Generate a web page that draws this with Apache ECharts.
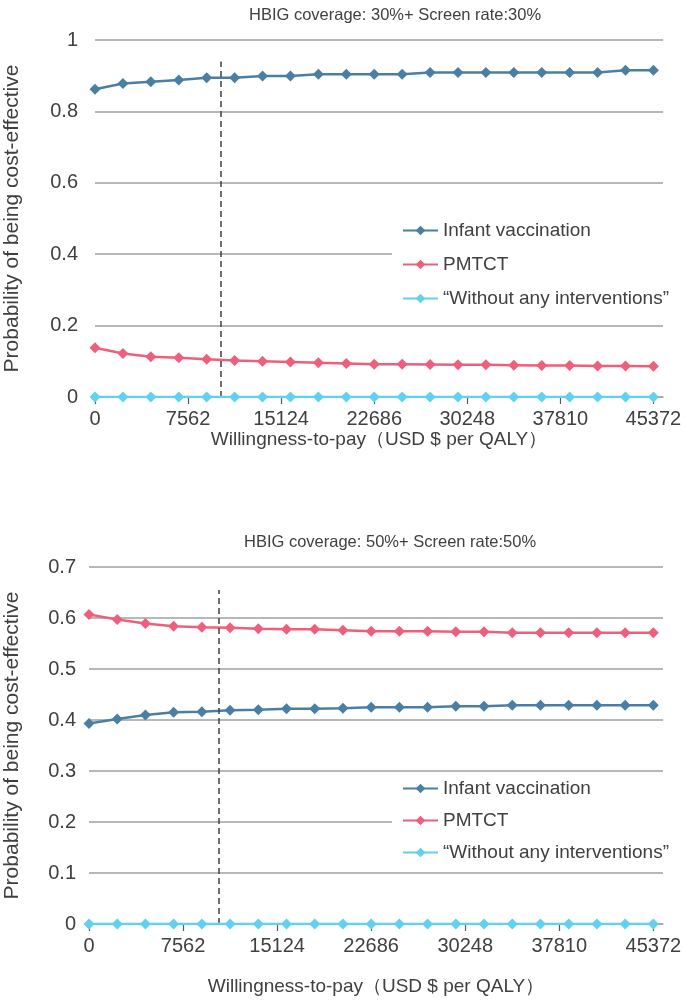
<!DOCTYPE html>
<html><head><meta charset="utf-8">
<script src="https://cdn.jsdelivr.net/npm/echarts@6/dist/echarts.min.js"></script>
<style>html,body{margin:0;padding:0;background:#fff}#c{width:685px;height:1006px}</style>
</head><body><div id="c"></div>
<script>
const wtp = [0, 2269, 4537, 6806, 9074, 11343, 13612, 15880, 18149, 20417, 22686, 24955, 27223, 29492, 31760, 34029, 36298, 38566, 40835, 43103, 45372];
const xTicks = [0, 7562, 15124, 22686, 30248, 37810, 45372];
const names = ['Infant vaccination', 'PMTCT', '\u201cWithout any interventions\u201d'];
const titles = ['HBIG coverage: 30%+ Screen rate:30%', 'HBIG coverage: 50%+ Screen rate:50%'];
// Top panel (30% / 30%)
const infant30 = [0.862, 0.878, 0.883, 0.888, 0.894, 0.894, 0.899, 0.899, 0.904, 0.904, 0.904, 0.904, 0.909, 0.909, 0.909, 0.909, 0.909, 0.909, 0.909, 0.915, 0.915];
const pmtct30  = [0.138, 0.122, 0.113, 0.110, 0.106, 0.102, 0.100, 0.098, 0.096, 0.094, 0.092, 0.092, 0.091, 0.090, 0.090, 0.089, 0.088, 0.088, 0.087, 0.087, 0.086];
const none30   = [0, 0, 0, 0, 0, 0, 0, 0, 0, 0, 0, 0, 0, 0, 0, 0, 0, 0, 0, 0, 0];
// Bottom panel (50% / 50%)
const infant50 = [0.393, 0.402, 0.410, 0.415, 0.416, 0.419, 0.420, 0.422, 0.422, 0.423, 0.425, 0.425, 0.425, 0.427, 0.427, 0.429, 0.429, 0.429, 0.429, 0.429, 0.429];
const pmtct50  = [0.607, 0.597, 0.589, 0.584, 0.582, 0.581, 0.579, 0.578, 0.578, 0.576, 0.574, 0.574, 0.574, 0.573, 0.573, 0.571, 0.571, 0.571, 0.571, 0.571, 0.571];
const none50   = [0, 0, 0, 0, 0, 0, 0, 0, 0, 0, 0, 0, 0, 0, 0, 0, 0, 0, 0, 0, 0];
const threshold = [10200, 10400];
const dashTop = [0.94, 0.655];

const colors = ['#4a7fa4', '#ee5f7c', '#62d0ef'];
const txt = '#404040';
const font = 'Liberation Sans, Arial, sans-serif';

function pairs(v) { return wtp.map((x, i) => [x, v[i]]); }

function mkSeries(idx, data, k, withMark) {
  const s = {
    name: names[k], type: 'line', xAxisIndex: idx, yAxisIndex: idx,
    data: pairs(data), symbol: 'diamond', symbolSize: 11,
    lineStyle: { color: colors[k], width: 2.5 },
    itemStyle: { color: colors[k] },
    z: 3 + k
  };
  if (withMark) {
    s.markLine = {
      silent: true, symbol: 'none', label: { show: false },
      lineStyle: { color: '#404040', type: [6, 4], width: 1.5 },
      data: [[{ coord: [threshold[idx], 0] }, { coord: [threshold[idx], dashTop[idx]] }]]
    };
  }
  return s;
}

function xAx(idx, gap) {
  return {
    type: 'value', gridIndex: idx, min: 0, max: 46150,
    name: 'Willingness-to-pay\uff08USD $ per QALY\uff09', nameLocation: 'middle', nameGap: gap,
    nameTextStyle: { color: txt, fontSize: 19, fontFamily: font },
    axisLine: { show: true, lineStyle: { color: '#a6a6a6', width: 1.5 } },
    axisTick: { show: true, customValues: xTicks, length: 7, lineStyle: { color: '#595959', width: 1.2 } },
    axisLabel: { customValues: xTicks, color: txt, fontSize: 20, fontFamily: font, margin: 12,
      formatter: v => String(v) },
    splitLine: { show: false }
  };
}
function yAx(idx, max, interval, gap, margin) {
  return {
    type: 'value', gridIndex: idx, min: 0, max: max, interval: interval,
    name: 'Probability of being cost-effective', nameLocation: 'middle', nameGap: gap,
    nameTextStyle: { color: txt, fontSize: 21, fontFamily: font },
    axisLine: { show: false }, axisTick: { show: false },
    axisLabel: { color: txt, fontSize: 20, fontFamily: font, margin: margin },
    splitLine: { show: true, lineStyle: { color: '#a0a0a0', width: 1.5 } }
  };
}
function leg(top, gap) {
  return {
    orient: 'vertical', left: 392, top: top, data: names,
    backgroundColor: '#fff', padding: [5, 6, 5, 10],
    itemWidth: 35, itemHeight: 12, itemGap: gap,
    textStyle: { color: txt, fontSize: 19, fontFamily: font }
  };
}

const chart = echarts.init(document.getElementById('c'), null, { renderer: 'canvas' });
chart.setOption({
  animation: false,
  backgroundColor: '#fff',
  title: [
    { text: titles[0], left: 244, top: 2, textStyle: { color: txt, fontSize: 16.5, fontWeight: 'normal', fontFamily: font } },
    { text: titles[1], left: 239, top: 529, textStyle: { color: txt, fontSize: 16.5, fontWeight: 'normal', fontFamily: font } }
  ],
  legend: [leg(216, 15), leg(774, 13)],
  grid: [
    { left: 95, right: 22, top: 40, bottom: 609, outerBoundsMode: 'none' },
    { left: 89, right: 22, top: 567, bottom: 82, outerBoundsMode: 'none' }
  ],
  xAxis: [xAx(0, 29), xAx(1, 53)],
  yAxis: [yAx(0, 1, 0.2, 72, 17), yAx(1, 0.7, 0.1, 66, 13)],
  series: [
    mkSeries(0, infant30, 0, true), mkSeries(0, pmtct30, 1, false), mkSeries(0, none30, 2, false),
    mkSeries(1, infant50, 0, true), mkSeries(1, pmtct50, 1, false), mkSeries(1, none50, 2, false)
  ]
});
</script></body></html>
